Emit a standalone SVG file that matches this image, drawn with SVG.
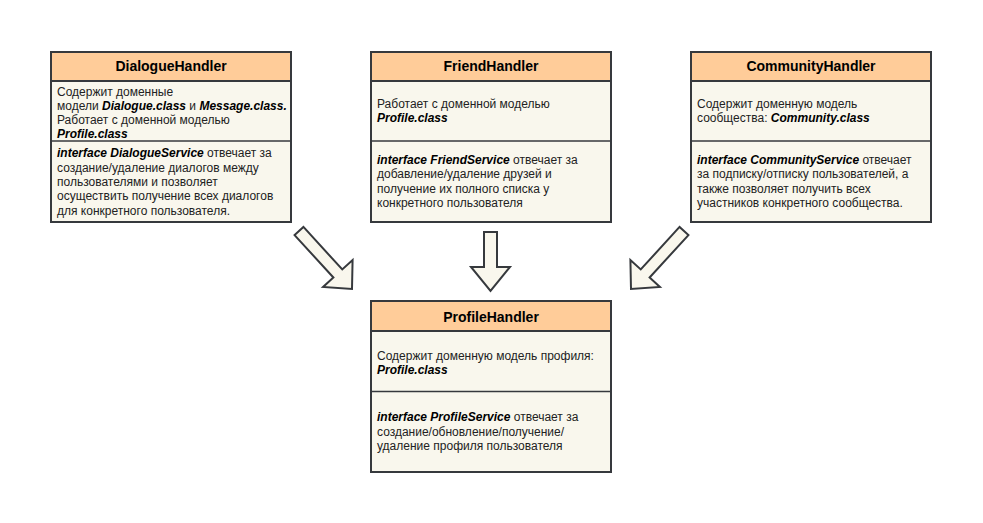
<svg xmlns="http://www.w3.org/2000/svg" width="983" height="523" viewBox="0 0 983 523">
<style>
.box{fill:#f9f7ed;stroke:#36393d;stroke-width:2}
.hdr{fill:#ffcc99;stroke:#36393d;stroke-width:2}
.sep{stroke:#36393d;stroke-width:1.5}
.title{font-family:"Liberation Sans",Arial,sans-serif;font-size:14px;font-weight:bold;fill:#000;text-anchor:middle}
.txt{font-family:"Liberation Sans",Arial,sans-serif;font-size:12px;fill:#222}
.bi{font-weight:bold;font-style:italic;fill:#000}
.arrow{fill:#f9f7ed;stroke:#36393d;stroke-width:2;stroke-linejoin:miter}
</style>
<rect width="983" height="523" fill="#ffffff"/>
<g id="connectors">
<polygon class="arrow" points="294.57,235.05 333.40,277.55 323.07,286.99 352,289 352.59,260.01 342.26,269.45 303.43,226.95"/>
<polygon class="arrow" points="484,232 484,267 471,267 490.5,291 510,267 497,267 497,232"/>
<polygon class="arrow" points="688.43,235.05 649.60,277.55 659.93,286.99 631,289 630.41,260.01 640.74,269.45 679.57,226.95"/>
</g>
<g id="DialogueHandler">
<rect class="box" x="51" y="52" width="240" height="170"/>
<rect class="hdr" x="51" y="52" width="240" height="29"/>
<line class="sep" x1="51" y1="141" x2="291" y2="141"/>
<text class="title" x="171" y="71">DialogueHandler</text>
<text class="txt" x="57" y="96">Содержит доменные</text>
<text class="txt" x="57" y="110">модели <tspan class="bi">Dialogue.class</tspan> и <tspan class="bi">Message.class.</tspan></text>
<text class="txt" x="57" y="124">Работает с доменной моделью</text>
<text class="txt" x="57" y="138"><tspan class="bi">Profile.class</tspan></text>
<text class="txt" x="57" y="157"><tspan class="bi">interface DialogueService</tspan> отвечает за</text>
<text class="txt" x="57" y="171.5">создание/удаление диалогов между</text>
<text class="txt" x="57" y="185.5">пользователями и позволяет</text>
<text class="txt" x="57" y="200">осуществить получение всех диалогов</text>
<text class="txt" x="57" y="214.5">для конкретного пользователя.</text>
</g>
<g id="FriendHandler">
<rect class="box" x="371" y="52" width="240" height="170"/>
<rect class="hdr" x="371" y="52" width="240" height="29"/>
<line class="sep" x1="371" y1="141" x2="611" y2="141"/>
<text class="title" x="491" y="71">FriendHandler</text>
<text class="txt" x="377" y="107.5">Работает с доменной моделью</text>
<text class="txt" x="377" y="122"><tspan class="bi">Profile.class</tspan></text>
<text class="txt" x="377" y="163.5"><tspan class="bi">interface FriendService</tspan> отвечает за</text>
<text class="txt" x="377" y="178">добавление/удаление друзей и</text>
<text class="txt" x="377" y="192.5">получение их полного списка у</text>
<text class="txt" x="377" y="207">конкретного пользователя</text>
</g>
<g id="CommunityHandler">
<rect class="box" x="691" y="52" width="240" height="170"/>
<rect class="hdr" x="691" y="52" width="240" height="29"/>
<line class="sep" x1="691" y1="141" x2="931" y2="141"/>
<text class="title" x="811" y="71">CommunityHandler</text>
<text class="txt" x="697" y="107.5">Содержит доменную модель</text>
<text class="txt" x="697" y="122">сообщества: <tspan class="bi">Community.class</tspan></text>
<text class="txt" x="697" y="163.5"><tspan class="bi">interface CommunityService</tspan> отвечает</text>
<text class="txt" x="697" y="178">за подписку/отписку пользователей, а</text>
<text class="txt" x="697" y="192.5">также позволяет получить всех</text>
<text class="txt" x="697" y="207">участников конкретного сообщества.</text>
</g>
<g id="ProfileHandler">
<rect class="box" x="371" y="301" width="240" height="171"/>
<rect class="hdr" x="371" y="301" width="240" height="30"/>
<line class="sep" x1="371" y1="391.5" x2="611" y2="391.5"/>
<text class="title" x="491" y="321.5">ProfileHandler</text>
<text class="txt" x="377" y="359.5">Содержит доменную модель профиля:</text>
<text class="txt" x="377" y="373.5"><tspan class="bi">Profile.class</tspan></text>
<text class="txt" x="377" y="421"><tspan class="bi">interface ProfileService</tspan> отвечает за</text>
<text class="txt" x="377" y="435.5">создание/обновление/получение/</text>
<text class="txt" x="377" y="450">удаление профиля пользователя</text>
</g>
</svg>
